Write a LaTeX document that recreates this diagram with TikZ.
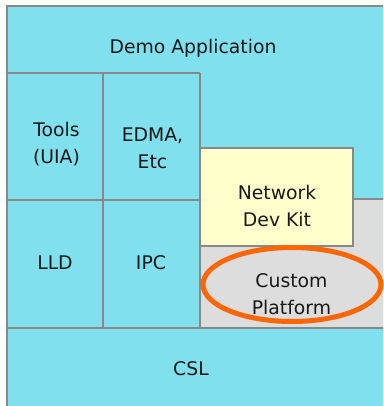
\documentclass[tikz,border=0pt]{standalone}
\usepackage{fontspec}
\usetikzlibrary{shapes.geometric}
\setmainfont{DejaVu Sans}
\definecolor{cyanbg}{RGB}{128,224,237}
\definecolor{edge}{RGB}{136,136,136}
\definecolor{grayfill}{RGB}{221,221,221}
\definecolor{yellowfill}{RGB}{255,255,204}
\definecolor{orangeline}{RGB}{255,102,0}
\tikzset{
  border/.style={draw=edge, line width=2pt},
  lbl/.style={font=\fontsize{18.8}{27}\selectfont, align=center, text=black!90, inner sep=0pt},
}
\begin{document}
\begin{tikzpicture}[x=1pt,y=-1pt]
\useasboundingbox (0,0) rectangle (383,406);
\fill[white] (0,0) rectangle (383,406);
\begin{scope}
\clip (0,0) rectangle (383,406);
% outer area
\filldraw[fill=cyanbg, border] (6.5,6.5) rectangle (400,420);
% grid lines
\draw[border] (6.5,73) -- (200,73);
\draw[border] (6.5,200) -- (200,200);
\draw[border] (103,73) -- (103,327.5);
\draw[border] (200,73) -- (200,327.5);
% gray platform area
\filldraw[fill=grayfill, border] (200,198.5) rectangle (400,327.5);
% network dev kit
\filldraw[fill=yellowfill, border] (200,148) rectangle (352.5,245.5);
% CSL line
\draw[border] (6.5,327.5) -- (400,327.5);
\end{scope}
% custom platform ellipse
\node[draw=orangeline, line width=5pt, ellipse, minimum width=178pt, minimum height=74pt, inner sep=0pt] (cp) at (292,284.5) {};
\node[lbl] (demo) at (193,48) {Demo Application};
\node[lbl] (tools) at (56.5,144) {Tools\\(UIA)};
\node[lbl] (edma) at (152.5,148) {EDMA,\\Etc};
\node[lbl] (lld) at (55,262.5) {LLD};
\node[lbl] (ipc) at (151,262.5) {IPC};
\node[lbl] (ndk) at (277,206) {Network\\Dev Kit};
\node[lbl] (cpt) at (291.5,294.5) {Custom\\Platform};
\node[lbl] (csl) at (191,369) {CSL};
\end{tikzpicture}
\end{document}
